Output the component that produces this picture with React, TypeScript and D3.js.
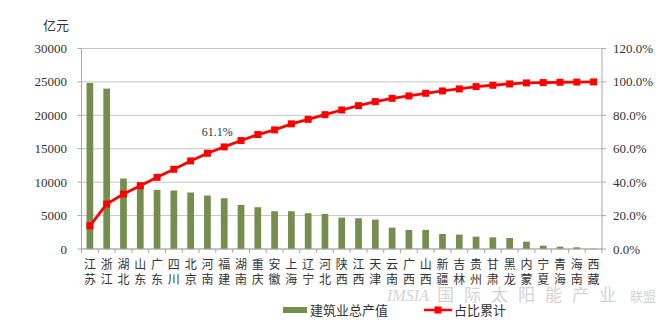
import React from "react";
import * as d3 from "d3";

const provinceTop = ["江","浙","湖","山","广","四","北","河","福","湖","重","安","上","辽","河","陕","江","天","云","广","山","新","吉","贵","甘","黑","内","宁","青","海","西"];
const provinceBottom = ["苏","江","北","东","东","川","京","南","建","南","庆","徽","海","宁","北","西","西","津","南","西","西","疆","林","州","肃","龙","蒙","夏","海","南","藏"];
const provinces = provinceTop.map((t, i) => t + provinceBottom[i]);

const outputValues = [24850, 24000, 10550, 9500, 8850, 8750, 8450, 8000, 7600, 6600, 6250, 5650, 5650, 5350, 5250, 4700, 4600, 4400, 3200, 2850, 2850, 2250, 2150, 1850, 1750, 1650, 1100, 500, 350, 250, 50];
const cumulativePct = [13.9, 26.9, 32.9, 37.9, 42.9, 47.7, 52.7, 57.3, 61.1, 64.9, 68.5, 71.3, 74.9, 77.6, 80.4, 83.2, 85.8, 88.2, 90.2, 91.6, 93.2, 94.6, 95.8, 97.2, 98.0, 98.8, 99.4, 99.6, 99.8, 99.9, 100.0];

const leftTicks = [0, 5000, 10000, 15000, 20000, 25000, 30000];
const rightTicks = [0, 20, 40, 60, 80, 100, 120];

const labelIndex = 8;
const labelText = "61.1%";

const W = 670;
const H = 321;
const L = 81.5;
const R = 602;
const T = 48.5;
const B = 249;

export default function App() {
  const x = d3.scaleBand<string>().domain(provinces).range([L, R]).paddingInner(0.6).paddingOuter(0.3);
  const yL = d3.scaleLinear().domain([0, 30000]).range([B, T]);
  const yR = d3.scaleLinear().domain([0, 120]).range([B, T]);
  const step = x.step();
  const cx = (p: string) => (x(p) as number) + x.bandwidth() / 2;
  const line = d3.line<number>().x((_, i) => cx(provinces[i])).y((d) => yR(d));
  const serif = "'Liberation Serif', 'DejaVu Serif', serif";
  const cjk = "'Noto Sans CJK SC', sans-serif";
  const boundaries = d3.range(provinces.length + 1).map((i) => L + i * step);

  return (
    <svg width={W} height={H} style={{ position: "absolute", left: 0, top: 0, background: "#fff" }}>
      {leftTicks.map((t) => (
        <line key={"g" + t} x1={L} x2={R} y1={yL(t)} y2={yL(t)} stroke="#c4c4c4" strokeWidth={1} />
      ))}
      {provinces.map((p, i) => (
        <rect key={p + i} x={x(p)} y={yL(outputValues[i])} width={x.bandwidth()} height={B - yL(outputValues[i])} fill="#748e50" />
      ))}
      <line x1={L} x2={L} y1={T} y2={B} stroke="#a6a6a6" />
      <line x1={R} x2={R} y1={T} y2={B} stroke="#a6a6a6" />
      <line x1={L} x2={R} y1={B} y2={B} stroke="#a6a6a6" />
      {leftTicks.map((t) => (
        <g key={"l" + t}>
          <line x1={L - 4} x2={L} y1={yL(t)} y2={yL(t)} stroke="#a6a6a6" />
          <text x={67} y={yL(t)} dy="0.35em" textAnchor="end" fontFamily={serif} fontSize={13} fill="#333">{t}</text>
        </g>
      ))}
      {rightTicks.map((t) => (
        <g key={"r" + t}>
          <line x1={R} x2={R + 4} y1={yR(t)} y2={yR(t)} stroke="#a6a6a6" />
          <text x={613} y={yR(t)} dy="0.35em" textAnchor="start" fontFamily={serif} fontSize={13} fill="#333">{t.toFixed(1) + "%"}</text>
        </g>
      ))}
      {boundaries.map((bx, i) => (
        <line key={"xt" + i} x1={bx} x2={bx} y1={B} y2={B + 4} stroke="#a6a6a6" />
      ))}
      {provinces.map((p, i) => (
        <text key={"xl" + i} x={cx(p)} y={269} textAnchor="middle" fontFamily={cjk} fontSize={12} fill="#333">
          <tspan x={cx(p)}>{provinceTop[i]}</tspan>
          <tspan x={cx(p)} dy={15}>{provinceBottom[i]}</tspan>
        </text>
      ))}
      <text x={43} y={30} fontFamily={cjk} fontSize={13} fill="#333">亿元</text>
      <path d={line(cumulativePct) || ""} fill="none" stroke="#ff0000" strokeWidth={2.8} />
      {cumulativePct.map((v, i) => (
        <rect key={"m" + i} x={cx(provinces[i]) - 3.5} y={yR(v) - 3.5} width={7} height={7} fill="#ff0000" />
      ))}
      <text x={cx(provinces[labelIndex]) - 7} y={yR(cumulativePct[labelIndex]) - 11} textAnchor="middle" fontFamily={serif} fontSize={12} fill="#333">{labelText}</text>
      <g opacity={0.55}>
        <text x={387} y={301} fontFamily={serif} fontStyle="italic" fontSize={16} fill="#b0b0b0">IMSIA</text>
        <text x={437} y={301} fontFamily={cjk} fontSize={17} letterSpacing={10} fill="#b0b0b0">国际太阳能产业</text>
        <text x={630} y={301} fontFamily={cjk} fontSize={13} fill="#b0b0b0">联盟</text>
      </g>
      <rect x={283} y={307} width={24} height={6} fill="#748e50" />
      <text x={310} y={310} dy="0.35em" fontFamily={cjk} fontSize={13} fill="#333">建筑业总产值</text>
      <line x1={424} x2={452} y1={310} y2={310} stroke="#ff0000" strokeWidth={2.5} />
      <rect x={434.5} y={306.5} width={7} height={7} fill="#ff0000" />
      <text x={454} y={310} dy="0.35em" fontFamily={cjk} fontSize={13} fill="#333">占比累计</text>
    </svg>
  );
}
